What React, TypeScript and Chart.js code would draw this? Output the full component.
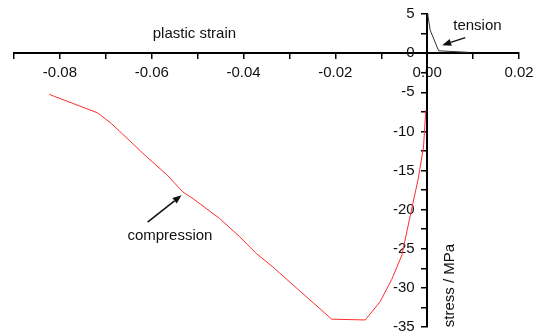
import React, { useEffect, useRef } from 'react';
import { Chart, registerables } from 'chart.js';

Chart.register(...registerables);

// Compression branch (plastic strain, stress in MPa)
const compressionStrain = [
  -0.0823, -0.0718, -0.0688, -0.0648, -0.0612, -0.0568, -0.0532, -0.051, -0.0452,
  -0.0408, -0.0372, -0.0336, -0.0321, -0.0208, -0.0135, -0.0103, -0.0077, -0.0055,
  -0.0037, -0.002, -0.0008, -0.0003,
];
const compressionStress = [
  -5.28, -7.63, -8.99, -11.2, -13.2, -15.5, -17.75, -18.6, -21.14,
  -23.49, -25.61, -27.33, -28.13, -34.0, -34.1, -31.8, -28.9, -25.8,
  -20.8, -16.2, -12.0, -7.3,
];

// Tension branch
const tensionStrain = [0, 0.00015, 0.00065, 0.0025, 0.005, 0.009];
const tensionStress = [5, 4.86, 2.94, 0.3, 0.22, 0.1];

// Axis ranges / ticks
const xMin = -0.09;
const xMax = 0.02;
const xStep = 0.01; // every other tick labelled
const yMin = -35;
const yMax = 5;
const yStep = 2.5; // every other tick labelled

const xTitle = 'plastic strain';
const yTitle = 'stress / MPa';
const tensionLabel = 'tension';
const compressionLabel = 'compression';

const FONT = '"Liberation Sans", Arial, Helvetica, sans-serif';

const annotationConfig = {
  texts: [
    { text: xTitle, x: -0.0507, y: 1.88, align: 'center', baseline: 'alphabetic', rotate: 0 },
    { text: tensionLabel, x: 0.00568, y: 2.95, align: 'left', baseline: 'alphabetic', rotate: 0 },
    { text: compressionLabel, x: -0.0653, y: -23.9, align: 'left', baseline: 'alphabetic', rotate: 0 },
    { text: yTitle, x: 0.005, y: -29.7, align: 'center', baseline: 'middle', rotate: -Math.PI / 2 },
  ],
  arrows: [
    { from: [0.0083, 1.98], to: [0.00327, 1.02] },
    { from: [-0.0609, -21.6], to: [-0.0535, -18.16] },
  ],
};

const annotationPlugin = {
  id: 'annotations',
  afterDraw(chart: any) {
    const { ctx } = chart;
    const xs = chart.scales.x;
    const ys = chart.scales.y;
    ctx.save();
    ctx.fillStyle = '#111';
    ctx.strokeStyle = '#111';
    ctx.font = `15px ${FONT}`;
    for (const t of annotationConfig.texts) {
      const px = xs.getPixelForValue(t.x);
      const py = ys.getPixelForValue(t.y);
      ctx.save();
      ctx.translate(px, py);
      ctx.rotate(t.rotate);
      ctx.textAlign = t.align as CanvasTextAlign;
      ctx.textBaseline = t.baseline as CanvasTextBaseline;
      ctx.fillText(t.text, 0, 0);
      ctx.restore();
    }
    for (const a of annotationConfig.arrows) {
      const x1 = xs.getPixelForValue(a.from[0]);
      const y1 = ys.getPixelForValue(a.from[1]);
      const x2 = xs.getPixelForValue(a.to[0]);
      const y2 = ys.getPixelForValue(a.to[1]);
      const ang = Math.atan2(y2 - y1, x2 - x1);
      const headLen = 9;
      const headW = 3.5;
      const bx = x2 - headLen * Math.cos(ang);
      const by = y2 - headLen * Math.sin(ang);
      ctx.lineWidth = 1.5;
      ctx.beginPath();
      ctx.moveTo(x1, y1);
      ctx.lineTo(bx, by);
      ctx.stroke();
      ctx.beginPath();
      ctx.moveTo(x2, y2);
      ctx.lineTo(bx + headW * Math.sin(ang), by - headW * Math.cos(ang));
      ctx.lineTo(bx - headW * Math.sin(ang), by + headW * Math.cos(ang));
      ctx.closePath();
      ctx.fill();
    }
    ctx.restore();
  },
};

export default function App() {
  const canvasRef = useRef<HTMLCanvasElement | null>(null);

  useEffect(() => {
    if (!canvasRef.current) return;
    const compression = compressionStrain.map((x, i) => ({ x, y: compressionStress[i] }));
    const tension = tensionStrain.map((x, i) => ({ x, y: tensionStress[i] }));

    const chart = new Chart(canvasRef.current, {
      type: 'line',
      data: {
        datasets: [
          {
            label: compressionLabel,
            data: compression,
            borderColor: 'rgb(255,45,45)',
            borderWidth: 1,
            pointRadius: 0,
            tension: 0,
            fill: false,
          },
          {
            label: tensionLabel,
            data: tension,
            borderColor: '#333',
            borderWidth: 1,
            pointRadius: 0,
            tension: 0,
            fill: false,
          },
        ],
      },
      options: {
        animation: false,
        responsive: false,
        maintainAspectRatio: false,
        layout: { padding: { left: 14, right: 24, top: 14, bottom: 9 } },
        plugins: {
          legend: { display: false },
          tooltip: { enabled: false },
        },
        scales: {
          x: {
            type: 'linear',
            min: xMin,
            max: xMax,
            position: { y: 0 } as any,
            afterFit: (s: any) => {
              s.height = 0;
              s.paddingLeft = 0;
              s.paddingRight = 0;
              s.paddingTop = 0;
              s.paddingBottom = 0;
            },
            afterBuildTicks: (s: any) => {
              const ticks = [];
              const n = Math.round((xMax - xMin) / xStep);
              for (let i = 0; i <= n; i++) ticks.push({ value: +(xMin + i * xStep).toFixed(4) });
              s.ticks = ticks;
            },
            grid: {
              display: true,
              drawOnChartArea: false,
              drawTicks: true,
              tickLength: 5,
              color: '#000',
              lineWidth: 1.5,
            },
            border: { display: true, color: '#000', width: 2 },
            ticks: {
              autoSkip: false,
              maxRotation: 0,
              padding: 6,
              color: '#111',
              font: { family: FONT, size: 15 },
              callback: (v: any) => {
                const k = Math.round(Number(v) * 100);
                return k % 2 === 0 ? (k / 100).toFixed(2) : '';
              },
            },
          },
          y: {
            type: 'linear',
            min: yMin,
            max: yMax,
            position: { x: 0 } as any,
            afterFit: (s: any) => {
              s.width = 0;
              s.paddingLeft = 0;
              s.paddingRight = 0;
              s.paddingTop = 0;
              s.paddingBottom = 0;
            },
            afterBuildTicks: (s: any) => {
              const ticks = [];
              const n = Math.round((yMax - yMin) / yStep);
              for (let i = 0; i <= n; i++) ticks.push({ value: yMin + i * yStep });
              s.ticks = ticks;
            },
            grid: {
              display: true,
              drawOnChartArea: false,
              drawTicks: true,
              tickLength: 5,
              color: '#000',
              lineWidth: 1.5,
            },
            border: { display: true, color: '#000', width: 2 },
            ticks: {
              autoSkip: false,
              color: '#111',
              font: { family: FONT, size: 15 },
              callback: (v: any) => {
                const n = Number(v);
                return Math.abs(n % 5) < 1e-9 ? `${n}   ` : '';
              },
            },
          },
        },
      },
      plugins: [annotationPlugin],
    });
    return () => chart.destroy();
  }, []);

  return (
    <div style={{ position: 'absolute', left: 0, top: 0, width: 543, height: 336, background: '#fff' }}>
      <canvas ref={canvasRef} width={543} height={336} />
    </div>
  );
}
